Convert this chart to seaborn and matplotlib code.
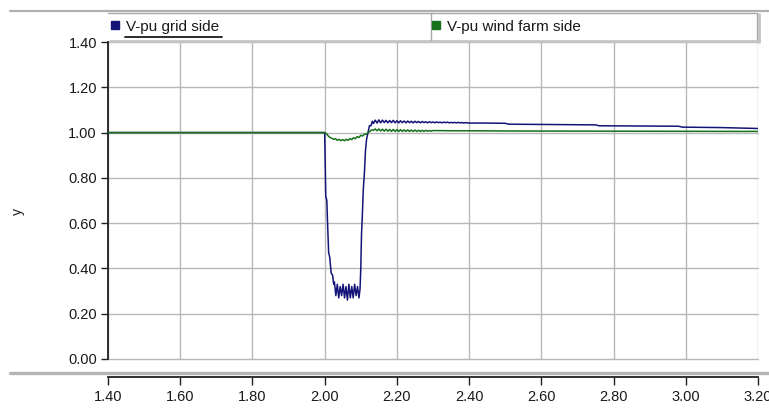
import numpy as np
import pandas as pd
import matplotlib
matplotlib.use("Agg")
import matplotlib.pyplot as plt
from matplotlib.lines import Line2D
import seaborn as sns

# ---------------- data ----------------
grid_t = [1.400, 2.000, 2.001, 2.003, 2.006, 2.008, 2.011, 2.014, 2.018, 2.022, 2.025,
          2.027, 2.031, 2.035, 2.039, 2.043, 2.047, 2.051, 2.055, 2.059, 2.063,
          2.067, 2.071, 2.075, 2.079, 2.083, 2.087, 2.091, 2.095, 2.098,
          2.100, 2.102, 2.104, 2.107, 2.110, 2.113, 2.116, 2.120, 2.124, 2.128, 2.132,
          2.135, 2.140, 2.145, 2.150, 2.155, 2.160, 2.165, 2.170, 2.175, 2.180,
          2.185, 2.190, 2.195, 2.200, 2.205, 2.210, 2.215, 2.220, 2.225, 2.230,
          2.235, 2.240, 2.245, 2.250, 2.255, 2.260, 2.265, 2.270, 2.275, 2.280,
          2.285, 2.290, 2.295, 2.300, 2.305, 2.310, 2.315, 2.320, 2.325, 2.330,
          2.335, 2.340, 2.345, 2.350, 2.355, 2.360, 2.365, 2.370, 2.375, 2.380,
          2.385, 2.390, 2.400, 2.450, 2.500, 2.510, 2.750, 2.760, 2.980, 2.990,
          3.100, 3.200]
grid_v = [1.000, 1.000, 0.900, 0.720, 0.700, 0.600, 0.470, 0.450, 0.380, 0.370, 0.330,
          0.340, 0.280, 0.330, 0.270, 0.320, 0.280, 0.330, 0.270, 0.320, 0.260,
          0.330, 0.270, 0.320, 0.270, 0.330, 0.280, 0.320, 0.270, 0.310,
          0.400, 0.550, 0.620, 0.750, 0.820, 0.920, 0.970, 1.000, 1.030, 1.030, 1.050,
          1.040, 1.055, 1.042, 1.056, 1.043, 1.055, 1.044, 1.054, 1.043, 1.053,
          1.044, 1.054, 1.043, 1.052, 1.043, 1.052, 1.044, 1.051, 1.043, 1.051,
          1.044, 1.050, 1.043, 1.050, 1.044, 1.049, 1.043, 1.049, 1.044, 1.048,
          1.043, 1.048, 1.044, 1.047, 1.043, 1.047, 1.044, 1.046, 1.043, 1.046,
          1.044, 1.046, 1.043, 1.045, 1.043, 1.045, 1.043, 1.045, 1.043, 1.044,
          1.042, 1.044, 1.042, 1.042, 1.041, 1.037, 1.034, 1.030, 1.028, 1.024,
          1.022, 1.018]

wind_t = [1.400, 2.000, 2.005, 2.010, 2.015, 2.020, 2.025, 2.030, 2.035, 2.040,
          2.045, 2.050, 2.055, 2.060, 2.065, 2.070, 2.075, 2.080, 2.085, 2.090,
          2.095, 2.100, 2.105, 2.110, 2.115, 2.120, 2.125, 2.130, 2.135, 2.140,
          2.145, 2.150, 2.155, 2.160, 2.165, 2.170, 2.175, 2.180, 2.185, 2.190,
          2.195, 2.200, 2.205, 2.210, 2.215, 2.220, 2.225, 2.230, 2.235, 2.240,
          2.245, 2.250, 2.255, 2.260, 2.265, 2.270, 2.275, 2.280, 2.285, 2.290,
          2.295, 2.300, 2.350, 2.400, 2.500, 3.200]
wind_v = [1.000, 1.000, 0.995, 0.985, 0.978, 0.975, 0.970, 0.973, 0.966, 0.970,
          0.964, 0.969, 0.964, 0.970, 0.966, 0.973, 0.969, 0.977, 0.973, 0.982,
          0.978, 0.988, 0.985, 0.993, 0.992, 1.000, 1.005, 1.012, 1.010, 1.016,
          1.008, 1.016, 1.007, 1.015, 1.006, 1.015, 1.006, 1.014, 1.005, 1.014,
          1.005, 1.013, 1.005, 1.013, 1.005, 1.012, 1.005, 1.012, 1.005, 1.011,
          1.005, 1.011, 1.005, 1.010, 1.005, 1.010, 1.005, 1.010, 1.006, 1.009,
          1.006, 1.009, 1.008, 1.008, 1.007, 1.005]

series_names = ["V-pu grid side", "V-pu wind farm side"]
series_colors = ["#141478", "#17701a"]
x_ticks = [1.40, 1.60, 1.80, 2.00, 2.20, 2.40, 2.60, 2.80, 3.00, 3.20]
y_ticks = [0.00, 0.20, 0.40, 0.60, 0.80, 1.00, 1.20, 1.40]

df = pd.concat([
    pd.DataFrame({"t": grid_t, "v": grid_v, "series": series_names[0]}),
    pd.DataFrame({"t": wind_t, "v": wind_v, "series": series_names[1]}),
], ignore_index=True)

# ---------------- styling ----------------
sns.set_style("white")
plt.rcParams["font.family"] = ["Liberation Sans", "DejaVu Sans"]

W, H = 769, 409
fig = plt.figure(figsize=(W / 100, H / 100), dpi=100)

def fx(px):
    return px / W

def fy(py):
    return 1 - py / H

ax = fig.add_axes([fx(108), fy(359), fx(758) - fx(108), fy(42) - fy(359)])

sns.lineplot(data=df, x="t", y="v", hue="series", palette=series_colors,
             hue_order=series_names, estimator=None, sort=False,
             linewidth=1.1, legend=False, ax=ax, zorder=3)

ax.set_xlim(1.40, 3.20)
ax.set_ylim(0.0, 1.40)
ax.set_xticks(x_ticks)
ax.set_yticks(y_ticks)
ax.set_xticklabels([f"{v:.2f}" for v in x_ticks])
ax.set_yticklabels([f"{v:.2f}" for v in y_ticks])
ax.set_xlabel("")
ax.set_ylabel("")

ax.grid(True, color="#b8b8b8", linewidth=1.0, zorder=0)
ax.set_axisbelow(True)
for gl in ax.get_ygridlines() + ax.get_xgridlines():
    gl.set_clip_on(False)

for s in ["top", "right"]:
    ax.spines[s].set_visible(False)
ax.spines["left"].set_color("#202020")
ax.spines["left"].set_linewidth(1.3)
ax.spines["bottom"].set_color("#202020")
ax.spines["bottom"].set_linewidth(1.3)
ax.spines["bottom"].set_position(("outward", 13))

ax.tick_params(axis="both", direction="out", colors="#202020", labelsize=10.5,
               labelcolor="#1a1a1a", bottom=True, left=True)
ax.tick_params(axis="y", length=5, width=1.0, pad=3)
ax.tick_params(axis="x", length=6, width=1.0, pad=3)

# y label
fig.text(fx(18), fy(212), "y", rotation=90, ha="center", va="center",
         fontsize=10, color="#1a1a1a")

# separator lines (top and above x axis)
fig.add_artist(Line2D([fx(10), 1.0], [fy(10.5), fy(10.5)], color="#b0b0b0", lw=1.6))
fig.add_artist(Line2D([fx(10), 1.0], [fy(373), fy(373)], color="#b4b4b4", lw=2.4))

# legend box (top, right, bottom edges with shadow, middle divider)
fig.add_artist(Line2D([fx(108), fx(757)], [fy(12.5), fy(12.5)], color="#a8a8a8", lw=1.0))
fig.add_artist(Line2D([fx(757), fx(757)], [fy(12.5), fy(40)], color="#a8a8a8", lw=1.0))
fig.add_artist(Line2D([fx(759), fx(759)], [fy(14), fy(42)], color="#c4c4c4", lw=2.0))
fig.add_artist(Line2D([fx(110), fx(759)], [fy(41), fy(41)], color="#c4c4c4", lw=2.0))
fig.add_artist(Line2D([fx(431), fx(431)], [fy(12.5), fy(40)], color="#a8a8a8", lw=1.0))

handles = [Line2D([], [], marker="s", linestyle="none", color=c, markersize=5.5)
           for c in series_colors]
leg_x = [110, 431]
for h, name, lx in zip(handles, series_names, leg_x):
    leg = fig.legend(handles=[h], labels=[name], loc="center left",
                     bbox_to_anchor=(fx(lx), fy(26.5)), frameon=False,
                     fontsize=11, handlelength=0.6, handletextpad=0.45,
                     borderpad=0, borderaxespad=0)
    for txt in leg.get_texts():
        txt.set_color("#1a1a1a")

# underline of the selected legend entry
fig.add_artist(Line2D([fx(125), fx(222)], [fy(36.5), fy(36.5)], color="#1a1a1a", lw=1.3))

fig.savefig("out.png", dpi=100)
